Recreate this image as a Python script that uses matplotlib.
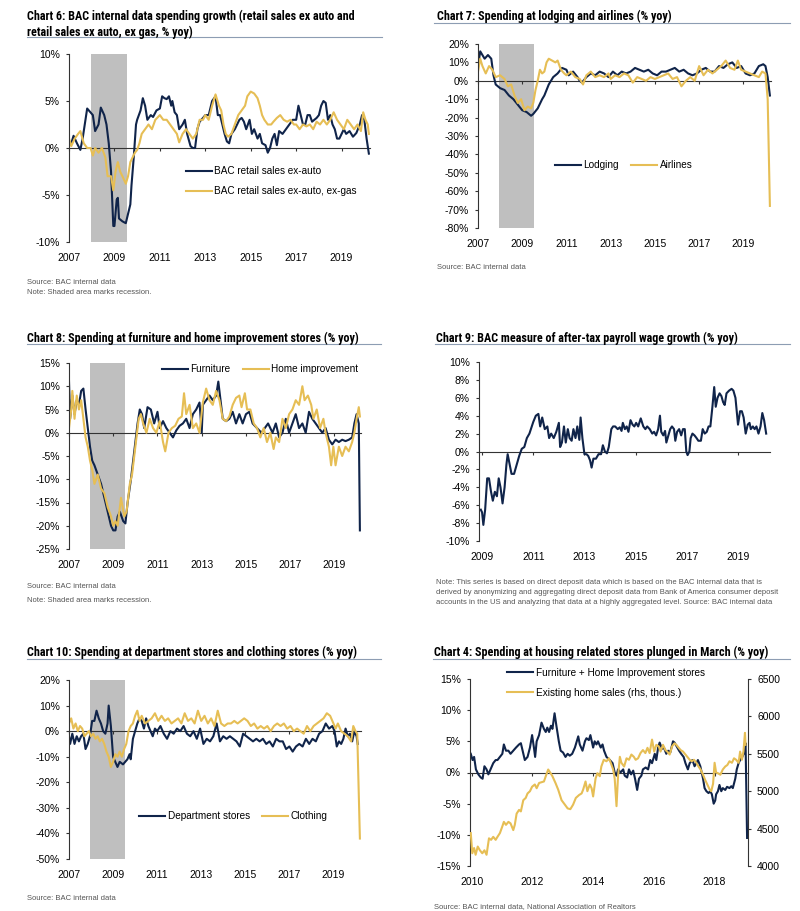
import matplotlib
matplotlib.use("Agg")
import matplotlib.pyplot as plt
from matplotlib.lines import Line2D

W, H = 800, 911
NAVY = "#10244a"
GOLD = "#e6be55"
SHADE = "#bfbfbf"
RULE = "#8d9db3"
AXC = "#333333"

BODY_FONT = ["Liberation Sans", "DejaVu Sans"]
TITLE_FONT = ["Liberation Sans Narrow", "Roboto Condensed", "Open Sans Condensed", "Liberation Sans"]

plt.rcParams["font.family"] = BODY_FONT

# recession (Dec 2007 - Jun 2009)
recession = (2007.95, 2009.55)

# ---- Chart 6: retail sales ex auto / ex auto ex gas (% yoy)
retail_ex_auto = [(2007.0, 0.3), (2007.1, 0.5), (2007.2, 1.3), (2007.35, 0.5), (2007.5, -0.2), (2007.6, 1.0),
                  (2007.8, 4.2), (2008.05, 3.5), (2008.15, 1.8), (2008.3, 2.5), (2008.4, 4.3), (2008.55, 3.5),
                  (2008.65, 2.5), (2008.75, 0.5), (2008.85, -2.5), (2008.95, -8.3), (2009.0, -8.3), (2009.1, -5.5),
                  (2009.15, -5.3), (2009.2, -7.5), (2009.35, -7.8), (2009.5, -8.0), (2009.6, -7.0), (2009.7, -6.0),
                  (2009.75, -4.0), (2009.85, -1.0), (2009.95, 2.5), (2010.0, 3.0), (2010.15, 4.0), (2010.25, 5.3),
                  (2010.35, 4.5), (2010.45, 3.0), (2010.6, 3.5), (2010.7, 3.3), (2010.85, 4.0), (2011.0, 4.2),
                  (2011.1, 5.5), (2011.2, 5.3), (2011.3, 5.2), (2011.4, 5.5), (2011.5, 4.5), (2011.55, 5.0),
                  (2011.65, 3.8), (2011.75, 3.5), (2011.85, 2.0), (2012.0, 2.5), (2012.1, 3.0), (2012.2, 1.5),
                  (2012.35, 0.2), (2012.45, 0.0), (2012.55, 0.0), (2012.65, 2.0), (2012.75, 2.8), (2012.9, 3.2),
                  (2013.0, 3.5), (2013.15, 3.5), (2013.3, 5.0), (2013.45, 5.5), (2013.55, 3.5), (2013.65, 3.5),
                  (2013.75, 2.5), (2013.85, 1.5), (2013.95, 0.7), (2014.05, 0.5), (2014.15, 1.5), (2014.3, 2.0),
                  (2014.4, 2.5), (2014.5, 3.0), (2014.6, 3.2), (2014.7, 2.8), (2014.8, 2.0), (2014.95, 3.0),
                  (2015.05, 1.5), (2015.15, 2.0), (2015.3, 1.0), (2015.4, 1.5), (2015.5, 0.5), (2015.65, 0.3),
                  (2015.75, -0.5), (2015.85, 0.0), (2015.95, 1.0), (2016.05, 1.5), (2016.15, 0.3), (2016.25, 1.8),
                  (2016.4, 1.5), (2016.55, 2.0), (2016.7, 2.5), (2016.85, 3.0), (2017.0, 3.0), (2017.1, 4.5),
                  (2017.2, 3.5), (2017.3, 2.5), (2017.4, 2.5), (2017.5, 3.5), (2017.6, 3.5), (2017.7, 2.8),
                  (2017.8, 3.0), (2017.9, 3.2), (2018.0, 3.5), (2018.1, 4.5), (2018.2, 5.0), (2018.3, 4.8),
                  (2018.4, 3.0), (2018.5, 3.5), (2018.6, 2.5), (2018.7, 2.0), (2018.8, 1.0), (2018.9, 1.0),
                  (2019.1, 2.0), (2019.2, 1.5), (2019.35, 1.8), (2019.5, 1.2), (2019.65, 1.6), (2019.8, 2.5),
                  (2019.9, 3.5), (2020.0, 3.0), (2020.1, 1.0), (2020.2, -0.6)]
retail_ex_gas = [(2007.0, 1.0), (2007.1, 0.2), (2007.25, 1.0), (2007.4, 1.5), (2007.5, 1.8), (2007.65, 0.5),
                 (2007.8, 0.0), (2007.95, 0.0), (2008.05, -0.8), (2008.15, 0.0), (2008.3, -0.5), (2008.45, 0.0),
                 (2008.6, -1.0), (2008.7, -3.0), (2008.85, -3.0), (2008.95, -4.5), (2009.05, -2.5), (2009.15, -1.5),
                 (2009.25, -2.5), (2009.35, -3.0), (2009.5, -3.8), (2009.6, -3.0), (2009.7, -1.5), (2009.8, -1.0),
                 (2009.9, -0.5), (2010.0, -0.2), (2010.1, 0.5), (2010.2, 1.5), (2010.35, 2.0), (2010.5, 2.5),
                 (2010.65, 2.0), (2010.8, 3.0), (2011.0, 3.5), (2011.15, 3.0), (2011.3, 3.0), (2011.45, 2.5),
                 (2011.6, 2.0), (2011.75, 1.5), (2011.85, 0.6), (2012.0, 1.5), (2012.15, 2.0), (2012.3, 1.5),
                 (2012.45, 1.0), (2012.6, 1.5), (2012.75, 3.0), (2012.9, 3.0), (2013.0, 3.5), (2013.15, 3.0),
                 (2013.3, 4.5), (2013.45, 5.7), (2013.6, 4.5), (2013.7, 4.0), (2013.8, 2.5), (2013.9, 1.5),
                 (2014.0, 1.2), (2014.15, 1.5), (2014.3, 2.5), (2014.45, 3.5), (2014.6, 4.0), (2014.75, 4.5),
                 (2014.85, 5.5), (2015.0, 6.0), (2015.15, 5.8), (2015.3, 5.3), (2015.4, 4.5), (2015.5, 3.5),
                 (2015.6, 3.0), (2015.75, 2.5), (2015.9, 2.5), (2016.0, 2.8), (2016.15, 3.2), (2016.3, 3.5),
                 (2016.45, 3.0), (2016.6, 2.8), (2016.75, 3.0), (2016.9, 2.5), (2017.0, 2.5), (2017.15, 2.0),
                 (2017.3, 2.5), (2017.45, 2.3), (2017.6, 2.5), (2017.75, 2.0), (2017.9, 2.8), (2018.05, 2.5),
                 (2018.2, 3.0), (2018.35, 2.5), (2018.5, 3.0), (2018.65, 3.8), (2018.8, 3.0), (2018.95, 2.5),
                 (2019.1, 2.0), (2019.25, 3.0), (2019.4, 2.5), (2019.55, 2.0), (2019.7, 2.5), (2019.85, 1.8),
                 (2019.95, 3.8), (2020.05, 3.0), (2020.15, 2.5), (2020.2, 1.5)]

# ---- Chart 7: lodging and airlines (% yoy)
lodging = [(2007.0, 8), (2007.1, 16), (2007.2, 14), (2007.3, 12), (2007.45, 14), (2007.6, 12), (2007.7, 3),
           (2007.8, -2), (2008.0, -4), (2008.2, -5), (2008.4, -8), (2008.6, -10), (2008.8, -13), (2009.0, -16),
           (2009.2, -17), (2009.4, -19), (2009.5, -18), (2009.7, -15), (2009.9, -10), (2010.0, -8), (2010.2, -2),
           (2010.4, 2), (2010.6, 4), (2010.8, 7), (2011.0, 6), (2011.1, 3), (2011.3, 5), (2011.5, 2), (2011.6, 0),
           (2011.7, -1), (2011.9, 2), (2012.1, 4), (2012.3, 3), (2012.5, 5), (2012.7, 4), (2012.9, 2), (2013.1, 5),
           (2013.3, 3), (2013.5, 5), (2013.7, 4), (2013.9, 5), (2014.1, 7), (2014.3, 6), (2014.5, 5), (2014.7, 6),
           (2014.9, 4), (2015.1, 3), (2015.3, 5), (2015.5, 5), (2015.7, 6), (2015.9, 7), (2016.1, 5), (2016.3, 6),
           (2016.5, 4), (2016.7, 3), (2016.9, 4), (2017.1, 6), (2017.3, 7), (2017.5, 5), (2017.7, 5), (2017.9, 8),
           (2018.1, 7), (2018.3, 9), (2018.5, 10), (2018.7, 7), (2018.9, 8), (2019.1, 4), (2019.3, 3), (2019.5, 4),
           (2019.7, 8), (2019.9, 9), (2020.0, 8), (2020.1, 2), (2020.2, -8)]
airlines = [(2007.0, 5), (2007.1, 12), (2007.2, 8), (2007.35, 4), (2007.5, 8), (2007.65, 6), (2007.8, 2), (2008.0, 3),
            (2008.2, 1), (2008.35, -3), (2008.5, -2), (2008.65, -8), (2008.8, -12), (2008.95, -10), (2009.1, -16),
            (2009.25, -14), (2009.4, -15), (2009.5, -12), (2009.6, -5), (2009.7, 0), (2009.8, 6), (2009.9, 4),
            (2010.0, 5), (2010.1, 10), (2010.2, 12), (2010.35, 11), (2010.5, 10), (2010.6, 11), (2010.75, 6),
            (2010.9, 4), (2011.0, 3), (2011.2, 5), (2011.4, 2), (2011.6, 1), (2011.75, -2), (2011.9, 3), (2012.1, 5),
            (2012.3, 2), (2012.5, 3), (2012.7, 2), (2012.9, 4), (2013.0, 1), (2013.2, 3), (2013.4, 2), (2013.6, 4),
            (2013.8, 3), (2014.0, -1), (2014.2, 2), (2014.4, 1), (2014.6, 0), (2014.8, 2), (2015.0, 1), (2015.2, 2),
            (2015.4, 3), (2015.6, 4), (2015.8, 1), (2016.0, 2), (2016.2, -3), (2016.4, 0), (2016.6, 2), (2016.8, 0),
            (2017.0, 8), (2017.2, 3), (2017.4, 6), (2017.6, 4), (2017.8, 6), (2018.0, 8), (2018.2, 11), (2018.4, 7),
            (2018.6, 6), (2018.75, 11), (2018.9, 6), (2019.1, 5), (2019.3, 4), (2019.5, 3), (2019.7, 2),
            (2019.85, 5), (2020.0, 4), (2020.1, -10), (2020.2, -68)]

# ---- Chart 8: furniture and home improvement (% yoy)
furniture = [(2007.0, 11), (2007.05, 3), (2007.15, 8), (2007.25, 4), (2007.35, 7), (2007.45, 6), (2007.55, 9),
             (2007.65, 9.5), (2007.75, 5), (2007.85, 1), (2007.95, -3), (2008.05, -6), (2008.15, -7), (2008.3, -9),
             (2008.45, -11), (2008.6, -14), (2008.75, -17), (2008.9, -20), (2009.0, -21), (2009.1, -21),
             (2009.2, -18), (2009.3, -17), (2009.45, -19), (2009.55, -19.5), (2009.65, -15), (2009.8, -10),
             (2009.9, -6), (2010.0, -2), (2010.1, 2), (2010.2, 5), (2010.3, 4), (2010.4, 1), (2010.55, 5.5),
             (2010.7, 5), (2010.85, 2), (2011.0, 4.5), (2011.1, 1), (2011.25, 2.5), (2011.4, 1), (2011.55, 0),
             (2011.7, -1), (2011.85, 0.5), (2012.0, 1.5), (2012.15, 2), (2012.3, 3), (2012.45, 1), (2012.6, 4),
             (2012.75, 5), (2012.9, 6.5), (2013.0, 0), (2013.05, 6), (2013.2, 7), (2013.35, 8), (2013.5, 7),
             (2013.65, 8), (2013.75, 11), (2013.85, 7), (2013.95, 3), (2014.1, 2.5), (2014.25, 3), (2014.4, 4.5),
             (2014.55, 2), (2014.7, 4), (2014.85, 2), (2015.0, 4), (2015.15, 4.5), (2015.3, 2), (2015.5, 1),
             (2015.7, 0), (2015.85, 1), (2016.0, 2), (2016.2, 0), (2016.35, 2), (2016.5, -1), (2016.65, 0),
             (2016.8, 3), (2016.95, 0), (2017.1, 2), (2017.25, 4), (2017.4, 1), (2017.55, 2), (2017.7, 0),
             (2017.85, 4.5), (2018.0, 3), (2018.15, 2), (2018.3, 1), (2018.45, 0), (2018.6, 1), (2018.75, -1.5),
             (2018.9, -2.5), (2019.05, -1.5), (2019.2, -2), (2019.35, -1.5), (2019.5, -1.8), (2019.65, -1.5),
             (2019.8, -1), (2019.9, 2), (2020.0, 4), (2020.1, 2), (2020.15, -21)]
home_improvement = [(2007.0, 1), (2007.1, 5), (2007.15, 9), (2007.25, 3), (2007.35, 8), (2007.45, 5), (2007.55, 7),
                    (2007.65, 3), (2007.75, -1), (2007.85, -3), (2007.95, -6), (2008.05, -8), (2008.15, -11),
                    (2008.3, -9), (2008.45, -12), (2008.6, -13), (2008.75, -16), (2008.9, -18), (2009.0, -20),
                    (2009.1, -19), (2009.2, -20), (2009.35, -14), (2009.5, -18), (2009.6, -17), (2009.75, -11),
                    (2009.85, -9), (2009.95, -5), (2010.05, -1), (2010.15, 3), (2010.25, 4), (2010.35, 2),
                    (2010.5, 0), (2010.65, 3), (2010.8, 1), (2010.95, 0), (2011.1, 2.5), (2011.25, -2),
                    (2011.35, -4), (2011.5, 0), (2011.65, 1), (2011.8, 1.5), (2011.95, 3), (2012.1, 3.5),
                    (2012.2, 8.5), (2012.3, 4), (2012.45, 6), (2012.6, 1), (2012.75, 2), (2012.9, 0), (2013.05, 6.5),
                    (2013.2, 9.5), (2013.35, 7), (2013.5, 6), (2013.65, 9), (2013.8, 7), (2013.95, 3), (2014.1, 2.5),
                    (2014.25, 3.5), (2014.4, 6), (2014.55, 7.5), (2014.7, 8), (2014.8, 5.5), (2014.95, 8.5),
                    (2015.05, 5), (2015.2, 5), (2015.35, 2), (2015.5, 1), (2015.65, -1), (2015.8, 1), (2015.95, -2),
                    (2016.1, 0), (2016.25, -3.5), (2016.35, -1), (2016.5, -2), (2016.65, 3), (2016.8, 1),
                    (2016.95, 4), (2017.1, 5), (2017.25, 7), (2017.4, 6), (2017.55, 10), (2017.65, 7), (2017.8, 8),
                    (2017.95, 6), (2018.05, 3), (2018.2, 5), (2018.35, 1), (2018.5, 3), (2018.6, 0), (2018.75, -3),
                    (2018.85, -7), (2018.95, -3), (2019.05, -7), (2019.2, -3), (2019.35, -5), (2019.5, -3),
                    (2019.65, -4), (2019.8, -2), (2019.9, 0), (2020.0, 3), (2020.1, 5.5), (2020.15, 3.5)]

# ---- Chart 9: after-tax payroll wage growth (% yoy)
wage_growth = [(2008.95, -6.5), (2009.0, -6.8), (2009.05, -8.2), (2009.12, -6.5), (2009.2, -3), (2009.27, -3),
               (2009.35, -4.5), (2009.42, -5.5), (2009.5, -4.5), (2009.58, -5), (2009.65, -3), (2009.72, -4),
               (2009.8, -5.8), (2009.88, -4), (2009.95, -1.5), (2010.0, -0.3), (2010.08, -1.5), (2010.15, -2.5),
               (2010.25, -2.5), (2010.35, -1.5), (2010.45, -0.5), (2010.55, 0.3), (2010.65, 0.5), (2010.75, 1.5),
               (2010.85, 2.0), (2011.0, 3.3), (2011.1, 4.0), (2011.2, 4.2), (2011.27, 2.8), (2011.35, 3.8),
               (2011.45, 2.5), (2011.55, 2.8), (2011.62, 1.5), (2011.7, 2.0), (2011.8, 1.5), (2011.9, 2.2),
               (2012.0, 3.2), (2012.05, 0.5), (2012.12, 1.0), (2012.2, 2.8), (2012.27, 1.0), (2012.35, 2.5),
               (2012.42, 1.5), (2012.5, 1.2), (2012.57, 2.5), (2012.65, 1.5), (2012.72, 2.8), (2012.8, 1.3),
               (2012.85, 3.8), (2012.92, 1.5), (2013.0, -0.3), (2013.08, -0.3), (2013.15, -0.5), (2013.22, -1.0),
               (2013.28, -1.8), (2013.35, -0.8), (2013.45, -0.8), (2013.55, -0.3), (2013.65, -0.3), (2013.72, 0.7),
               (2013.8, 0.0), (2013.88, -0.2), (2013.95, 0.5), (2014.05, 2.5), (2014.12, 2.8), (2014.2, 2.8),
               (2014.3, 2.5), (2014.38, 2.7), (2014.45, 2.3), (2014.5, 3.2), (2014.58, 2.5), (2014.65, 2.8),
               (2014.72, 2.2), (2014.8, 3.5), (2014.88, 3.0), (2014.95, 2.8), (2015.02, 3.2), (2015.1, 2.8),
               (2015.2, 3.7), (2015.3, 2.8), (2015.38, 2.5), (2015.45, 2.8), (2015.55, 2.5), (2015.65, 2.0),
               (2015.72, 2.2), (2015.8, 1.8), (2015.88, 2.5), (2015.95, 4.0), (2016.0, 2.2), (2016.08, 1.8),
               (2016.15, 2.3), (2016.2, 1.0), (2016.28, 1.8), (2016.35, 2.5), (2016.42, 2.8), (2016.5, 2.5),
               (2016.55, 1.2), (2016.62, 2.2), (2016.7, 2.5), (2016.78, 1.8), (2016.85, 2.5), (2016.92, 2.5),
               (2016.98, 0.0), (2017.03, -0.4), (2017.1, 0.0), (2017.15, 1.5), (2017.22, 2.0), (2017.3, 1.8),
               (2017.38, 1.5), (2017.45, 1.2), (2017.55, 1.2), (2017.62, 2.5), (2017.7, 2.0), (2017.78, 2.2),
               (2017.85, 2.8), (2017.92, 2.8), (2018.0, 5.0), (2018.07, 7.2), (2018.13, 5.0), (2018.2, 6.0),
               (2018.28, 6.5), (2018.35, 6.2), (2018.42, 5.5), (2018.48, 5.2), (2018.55, 6.5), (2018.65, 6.8),
               (2018.75, 7.0), (2018.82, 6.8), (2018.9, 6.0), (2018.95, 4.5), (2019.0, 3.0), (2019.08, 4.5),
               (2019.15, 4.5), (2019.22, 3.8), (2019.3, 2.0), (2019.38, 3.0), (2019.45, 3.2), (2019.5, 2.5),
               (2019.58, 2.8), (2019.65, 2.5), (2019.72, 2.8), (2019.8, 2.0), (2019.88, 2.8), (2019.95, 4.3),
               (2020.02, 3.5), (2020.1, 2.0)]

# ---- Chart 10: department stores and clothing (% yoy)
dept_stores = [(2007.0, -2), (2007.05, -5), (2007.15, -1), (2007.25, -5), (2007.35, -2), (2007.45, -4),
               (2007.55, -2), (2007.65, -1), (2007.75, -7), (2007.85, -5), (2007.95, -2), (2008.05, 4),
               (2008.15, 4), (2008.25, 8), (2008.35, 5), (2008.45, 3), (2008.55, 0), (2008.65, -1), (2008.75, 3),
               (2008.8, 10), (2008.9, 2), (2009.0, -10), (2009.1, -12), (2009.2, -14), (2009.3, -12),
               (2009.45, -13), (2009.55, -12), (2009.65, -11), (2009.75, -9), (2009.8, -11), (2009.9, -3),
               (2010.0, 0), (2010.1, 3), (2010.2, 5), (2010.3, 4), (2010.4, 1), (2010.5, 5), (2010.6, 2),
               (2010.7, 0), (2010.8, -2), (2010.9, 1), (2011.0, 0), (2011.15, 2), (2011.3, -1), (2011.45, -3),
               (2011.6, 0), (2011.75, -1), (2011.9, 1), (2012.05, 0), (2012.2, 2), (2012.35, -1), (2012.5, -2),
               (2012.65, 0), (2012.8, -3), (2012.95, 1), (2013.1, -5), (2013.25, -3), (2013.4, -4), (2013.55, -2),
               (2013.7, 3), (2013.85, -4), (2014.0, -2), (2014.15, -3), (2014.3, -2), (2014.45, -3), (2014.6, -4),
               (2014.75, -6), (2014.9, -1), (2015.05, -2), (2015.2, -3), (2015.35, -4), (2015.5, -3),
               (2015.65, -4), (2015.8, -3), (2015.95, -5), (2016.1, -4), (2016.25, -6), (2016.4, -3),
               (2016.55, -4), (2016.7, -4), (2016.85, -7), (2017.0, -6), (2017.15, -8), (2017.3, -6),
               (2017.45, -5), (2017.6, -6), (2017.75, -3), (2017.9, -5), (2018.05, -3), (2018.2, -4),
               (2018.35, -1), (2018.5, 0), (2018.65, 3), (2018.8, 1), (2018.95, 2), (2019.05, 0), (2019.15, -6),
               (2019.25, -4), (2019.35, -5), (2019.45, -3), (2019.55, 1), (2019.65, -2), (2019.75, -1),
               (2019.85, -4), (2019.95, 0), (2020.05, -2), (2020.1, -5)]
clothing = [(2007.0, 3), (2007.1, 5), (2007.2, 1), (2007.3, 3), (2007.4, 0), (2007.5, 2), (2007.6, 1), (2007.7, -2),
            (2007.8, -1), (2007.9, 0), (2008.0, -2), (2008.1, -1), (2008.2, -3), (2008.3, -2), (2008.4, -4),
            (2008.5, -3), (2008.6, -5), (2008.7, -8), (2008.8, -10), (2008.9, -14), (2009.0, -12), (2009.1, -9),
            (2009.2, -10), (2009.3, -8), (2009.4, -10), (2009.5, -7), (2009.6, -5), (2009.7, 0), (2009.8, 2),
            (2009.9, 3), (2010.0, 6), (2010.1, 8), (2010.2, 4), (2010.3, 6), (2010.45, 3), (2010.6, 4),
            (2010.75, 5), (2010.9, 7), (2011.05, 4), (2011.2, 6), (2011.35, 4), (2011.5, 5), (2011.65, 3),
            (2011.8, 4), (2011.95, 5), (2012.1, 3), (2012.25, 7), (2012.4, 4), (2012.55, 5), (2012.7, 3),
            (2012.85, 8), (2013.0, 4), (2013.15, 6), (2013.3, 3), (2013.45, 5), (2013.6, 2), (2013.75, 8),
            (2013.9, 3), (2014.05, 2), (2014.2, 3), (2014.35, 3), (2014.5, 4), (2014.65, 3), (2014.8, 4),
            (2014.95, 5), (2015.1, 4), (2015.25, 2), (2015.4, 3), (2015.55, 1), (2015.7, 2), (2015.85, 1),
            (2016.0, 2), (2016.15, 0), (2016.3, 2), (2016.45, 3), (2016.6, 2), (2016.75, 3), (2016.9, 1),
            (2017.05, 2), (2017.2, 0), (2017.35, 1), (2017.5, 0), (2017.65, -1), (2017.8, 2), (2017.95, 0),
            (2018.1, 2), (2018.25, 3), (2018.4, 4), (2018.55, 5), (2018.7, 7), (2018.85, 6), (2019.0, 3),
            (2019.1, 1), (2019.2, 3), (2019.35, 0), (2019.5, -1), (2019.65, -2), (2019.8, -4), (2019.9, 2),
            (2020.0, 0), (2020.08, -1), (2020.2, -42)]

# ---- Chart 4: furniture + home improvement (% yoy) and existing home sales (rhs, thous.)
furn_home = [(2009.97, 3.0), (2010.03, 2.0), (2010.08, 2.5), (2010.14, 0.5), (2010.22, -0.3), (2010.30, -0.8),
             (2010.36, -1.0), (2010.42, 1.0), (2010.49, 0.5), (2010.55, -0.3), (2010.62, 0.5), (2010.71, 1.5),
             (2010.79, 2.0), (2010.85, 2.0), (2010.93, 2.5), (2011.01, 3.0), (2011.06, 4.5), (2011.13, 3.5),
             (2011.21, 3.5), (2011.28, 3.0), (2011.37, 3.5), (2011.46, 4.0), (2011.56, 4.5), (2011.62, 4.7),
             (2011.70, 3.0), (2011.75, 2.0), (2011.84, 2.5), (2011.92, 4.0), (2011.99, 6.0), (2012.05, 4.0),
             (2012.09, 2.5), (2012.14, 5.0), (2012.22, 6.0), (2012.30, 8.0), (2012.38, 7.0), (2012.44, 6.5),
             (2012.49, 7.2), (2012.55, 6.5), (2012.61, 7.5), (2012.66, 7.0), (2012.73, 9.5), (2012.79, 7.5),
             (2012.87, 5.0), (2012.93, 3.5), (2013.01, 3.2), (2013.09, 2.5), (2013.16, 3.0), (2013.23, 2.7),
             (2013.31, 3.0), (2013.40, 4.0), (2013.51, 5.8), (2013.56, 4.5), (2013.65, 3.5), (2013.73, 5.0),
             (2013.78, 5.5), (2013.86, 5.2), (2013.91, 6.0), (2014.00, 4.0), (2014.05, 5.0), (2014.11, 4.5),
             (2014.16, 5.0), (2014.25, 4.0), (2014.31, 4.5), (2014.36, 3.5), (2014.44, 2.5), (2014.55, 2.0),
             (2014.64, 1.5), (2014.71, 0.0), (2014.77, -0.5), (2014.82, 0.5), (2014.90, 0.0), (2014.99, 0.5),
             (2015.04, -0.5), (2015.12, -0.8), (2015.18, 0.5), (2015.25, -0.3), (2015.32, 0.3), (2015.38, -1.0),
             (2015.45, -2.8), (2015.51, -1.0), (2015.59, -0.5), (2015.64, 0.5), (2015.73, 0.8), (2015.81, 0.5),
             (2015.88, 2.0), (2015.94, 1.5), (2016.03, 3.0), (2016.08, 2.0), (2016.14, 4.0), (2016.19, 4.8),
             (2016.27, 3.8), (2016.33, 4.0), (2016.41, 3.0), (2016.47, 3.5), (2016.54, 3.2), (2016.63, 5.0),
             (2016.68, 4.8), (2016.77, 4.0), (2016.83, 3.5), (2016.90, 3.0), (2016.98, 2.5), (2017.04, 1.5),
             (2017.12, 0.5), (2017.18, 1.5), (2017.27, 2.0), (2017.34, 1.0), (2017.40, 1.5), (2017.45, 2.0),
             (2017.53, 1.0), (2017.62, -1.0), (2017.67, -2.5), (2017.73, -3.0), (2017.80, -3.3), (2017.86, -3.0),
             (2017.91, -3.5), (2017.97, -5.0), (2018.02, -4.5), (2018.05, -3.5), (2018.11, -3.0), (2018.16, -2.0),
             (2018.22, -3.0), (2018.27, -2.5), (2018.35, -2.8), (2018.41, -2.3), (2018.49, -2.5), (2018.55, -2.2),
             (2018.60, -2.5), (2018.68, -1.0), (2018.73, 0.5), (2018.79, 1.5), (2018.84, 2.0), (2018.91, 2.5),
             (2018.96, 3.0), (2019.02, 4.7), (2019.07, -10.5)]
home_sales = [(2009.97, 4440), (2010.02, 4170), (2010.08, 4240), (2010.13, 4150), (2010.20, 4260), (2010.27, 4210),
              (2010.35, 4170), (2010.42, 4210), (2010.49, 4150), (2010.57, 4370), (2010.64, 4350), (2010.71, 4390),
              (2010.79, 4350), (2010.85, 4390), (2010.93, 4440), (2011.01, 4530), (2011.06, 4590), (2011.13, 4550),
              (2011.21, 4590), (2011.28, 4570), (2011.37, 4480), (2011.42, 4550), (2011.48, 4700), (2011.56, 4750),
              (2011.62, 4730), (2011.70, 4880), (2011.78, 4910), (2011.84, 4970), (2011.92, 5000), (2011.99, 5060),
              (2012.08, 5090), (2012.14, 5040), (2012.22, 5110), (2012.30, 5120), (2012.38, 5130), (2012.44, 5200),
              (2012.52, 5290), (2012.60, 5240), (2012.66, 5200), (2012.76, 5110), (2012.85, 5020), (2012.96, 4880),
              (2013.07, 4820), (2013.16, 4770), (2013.25, 4760), (2013.34, 4820), (2013.43, 4910), (2013.54, 4950),
              (2013.62, 4970), (2013.67, 5020), (2013.75, 5130), (2013.81, 5000), (2013.89, 5090), (2013.95, 5040),
              (2014.00, 4930), (2014.08, 5170), (2014.14, 5240), (2014.22, 5200), (2014.27, 5330), (2014.35, 5420),
              (2014.44, 5400), (2014.52, 5440), (2014.58, 5380), (2014.66, 5290), (2014.71, 5170), (2014.77, 4800),
              (2014.82, 5200), (2014.88, 5460), (2014.93, 5380), (2015.02, 5330), (2015.10, 5440), (2015.18, 5420),
              (2015.26, 5490), (2015.34, 5460), (2015.40, 5420), (2015.48, 5440), (2015.56, 5510), (2015.64, 5550),
              (2015.72, 5510), (2015.79, 5580), (2015.86, 5510), (2015.94, 5690), (2016.01, 5530), (2016.08, 5620),
              (2016.16, 5600), (2016.22, 5530), (2016.30, 5620), (2016.38, 5550), (2016.44, 5530), (2016.52, 5490),
              (2016.60, 5600), (2016.68, 5640), (2016.74, 5620), (2016.82, 5580), (2016.88, 5550), (2016.96, 5530),
              (2017.04, 5490), (2017.10, 5460), (2017.18, 5420), (2017.25, 5400), (2017.32, 5420), (2017.40, 5380),
              (2017.47, 5330), (2017.54, 5290), (2017.62, 5220), (2017.69, 5150), (2017.76, 5090), (2017.84, 5020),
              (2017.89, 5000), (2017.95, 5100), (2018.00, 5380), (2018.05, 5250), (2018.11, 5240), (2018.19, 5220),
              (2018.27, 5290), (2018.35, 5330), (2018.42, 5350), (2018.49, 5400), (2018.57, 5380), (2018.64, 5440),
              (2018.71, 5420), (2018.79, 5380), (2018.84, 5530), (2018.90, 5420), (2018.95, 5530), (2019.00, 5780),
              (2019.02, 5620)]

even_years = list(range(2007, 2020, 2))


def unzip(pairs):
    return [p[0] for p in pairs], [p[1] for p in pairs]


def rect(l, t, w, h):
    return [l / W, 1 - (t + h) / H, w / W, h / H]


def fpt(x, y):
    return x / W, 1 - y / H


fig = plt.figure(figsize=(W / 100, H / 100), dpi=100)


def make_axes(box, xlim, xticks, ylim, yticks):
    ax = fig.add_axes(rect(*box))
    ax.set_xlim(*xlim)
    ax.set_ylim(*ylim)
    for s in ("top", "right", "bottom"):
        ax.spines[s].set_visible(False)
    ax.spines["left"].set_linewidth(0.8)
    ax.spines["left"].set_color(AXC)
    ax.set_yticks(yticks, [f"{v}%" for v in yticks])
    ax.set_xticks(xticks, [str(v) for v in xticks])
    ax.tick_params(axis="y", length=2.5, width=0.8, pad=4.0, labelsize=7.5, color=AXC)
    ax.tick_params(axis="x", length=0, pad=8, labelsize=7.5)
    zero = ax.secondary_xaxis(0, transform=ax.transData)
    zero.set_xticks(xticks, [])
    zero.tick_params(length=2.5, width=0.8, color=AXC)
    zero.spines["bottom"].set_linewidth(0.8)
    zero.spines["bottom"].set_color(AXC)
    return ax


def title(x, y, text):
    fig.text(*fpt(x, y), text, family=TITLE_FONT, fontweight="bold", fontsize=8.75, va="center", ha="left")


def rule(x0, x1, y):
    fig.add_artist(Line2D([x0 / W, x1 / W], [1 - y / H, 1 - y / H], transform=fig.transFigure,
                          color=RULE, lw=0.8))


def note(x, y, text):
    fig.text(*fpt(x, y), text, fontsize=5.5, color="#555555", va="center", ha="left")


def legend(ax, handles, labels, x, y, ncol=1, spacing=1.0, colsp=1.2):
    ax.legend(handles, labels, loc="center left", bbox_to_anchor=fpt(x, y), bbox_transform=fig.transFigure,
              ncol=ncol, frameon=False, fontsize=7.2, handlelength=2.6, handletextpad=0.25,
              labelspacing=spacing, columnspacing=colsp, borderpad=0, borderaxespad=0)


# Chart 6
ax6 = make_axes((69, 54, 301, 188), (2007.0, 2020.25), even_years, (-10, 10), range(-10, 11, 5))
ax6.axvspan(*recession, color=SHADE, lw=0, zorder=0)
l1, = ax6.plot(*unzip(retail_ex_auto), color=NAVY, lw=1.5)
l2, = ax6.plot(*unzip(retail_ex_gas), color=GOLD, lw=1.5)
legend(ax6, [l1, l2], ["BAC retail sales ex-auto", "BAC retail sales ex-auto, ex-gas"], 186, 181)
title(27, 16, "Chart 6: BAC internal data spending growth (retail sales ex auto and")
title(27, 32, "retail sales ex auto, ex gas, % yoy)")
rule(27, 382, 36.5)
note(27, 282, "Source: BAC internal data")
note(27, 293, "Note: Shaded area marks recession.")

# Chart 7
ax7 = make_axes((478, 44, 293, 184), (2007.0, 2020.25), even_years, (-80, 20), range(-80, 21, 10))
ax7.axvspan(*recession, color=SHADE, lw=0, zorder=0)
l1, = ax7.plot(*unzip(lodging), color=NAVY, lw=1.5)
l2, = ax7.plot(*unzip(airlines), color=GOLD, lw=1.5)
legend(ax7, [l1, l2], ["Lodging", "Airlines"], 555, 165, ncol=2)
title(437, 16, "Chart 7: Spending at lodging and airlines (% yoy)")
rule(434, 790, 23)
note(437, 268, "Source: BAC internal data")

# Chart 8
ax8 = make_axes((69, 363, 292, 186), (2007.0, 2020.2), even_years, (-25, 15), range(-25, 16, 5))
ax8.axvspan(*recession, color=SHADE, lw=0, zorder=0)
l1, = ax8.plot(*unzip(furniture), color=NAVY, lw=1.5)
l2, = ax8.plot(*unzip(home_improvement), color=GOLD, lw=1.5)
legend(ax8, [l1, l2], ["Furniture", "Home improvement"], 162, 369, ncol=2)
title(27, 338, "Chart 8: Spending at furniture and home improvement stores (% yoy)")
rule(27, 381, 343.5)
note(27, 587, "Source: BAC internal data")
note(27, 601, "Note: Shaded area marks recession.")

# Chart 9
ax9 = make_axes((479, 362, 291, 179), (2008.88, 2020.25), list(range(2009, 2020, 2)), (-10, 10),
                range(-10, 11, 2))
ax9.plot(*unzip(wage_growth), color=NAVY, lw=1.5)
title(436, 338, "Chart 9: BAC measure of after-tax payroll wage growth (% yoy)")
rule(435, 790, 343.5)
note(436, 582, "Note: This series is based on direct deposit data which is based on the BAC internal data that is")
note(436, 593, "derived by anonymizing and aggregating direct deposit data from Bank of America consumer deposit")
note(436, 603, "accounts in the US and analyzing that data at a highly aggregated level. Source: BAC internal data")

# Chart 10
ax10 = make_axes((69, 680, 292, 179), (2007.0, 2020.25), even_years, (-50, 20), range(-50, 21, 10))
ax10.axvspan(*recession, color=SHADE, lw=0, zorder=0)
l1, = ax10.plot(*unzip(dept_stores), color=NAVY, lw=1.5)
l2, = ax10.plot(*unzip(clothing), color=GOLD, lw=1.5)
legend(ax10, [l1, l2], ["Department stores", "Clothing"], 139, 816, ncol=2)
title(27, 652, "Chart 10: Spending at department stores and clothing stores (% yoy)")
rule(27, 381, 658.5)
note(27, 899, "Source: BAC internal data")

# Chart 4
ax4 = make_axes((470, 679, 278, 187), (2009.945, 2019.1), list(range(2010, 2019, 2)), (-15, 15),
                range(-15, 16, 5))
ax4r = ax4.twinx()
ax4r.set_ylim(4000, 6500)
ax4r.set_yticks(range(4000, 6501, 500), [str(v) for v in range(4000, 6501, 500)])
for s in ("top", "left", "bottom"):
    ax4r.spines[s].set_visible(False)
ax4r.spines["right"].set_linewidth(0.8)
ax4r.spines["right"].set_color(AXC)
ax4r.tick_params(axis="y", length=2.5, width=0.8, pad=4.0, labelsize=7.5, color=AXC)
l1, = ax4.plot(*unzip(furn_home), color=NAVY, lw=1.5)
l2, = ax4r.plot(*unzip(home_sales), color=GOLD, lw=1.5)
legend(ax4r, [l1, l2], ["Furniture + Home Improvement stores", "Existing home sales (rhs, thous.)"], 507, 682.5)
title(434, 652, "Chart 4: Spending at housing related stores plunged in March (% yoy)")
rule(433, 790, 659)
note(434, 907, "Source: BAC internal data, National Association of Realtors")

fig.savefig("out.png", dpi=100)
